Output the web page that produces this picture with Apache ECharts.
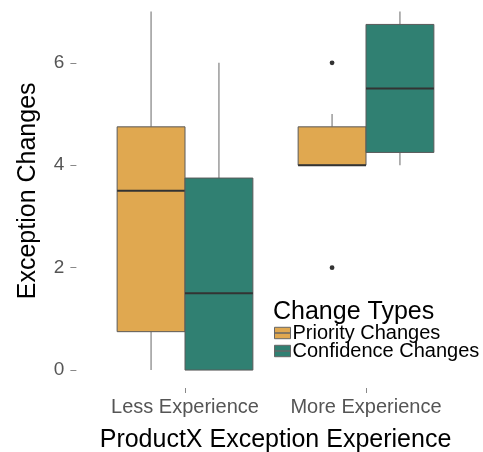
<!DOCTYPE html>
<html>
<head>
<meta charset="utf-8">
<script src="https://cdn.jsdelivr.net/npm/echarts@6/dist/echarts.min.js"></script>
<style>
  html, body { margin: 0; padding: 0; background: #fff; }
  #chart { width: 483px; height: 452px; }
</style>
</head>
<body>
<div id="chart"></div>
<script>
// 数据
const categories = ["Less Experience", "More Experience"];
const seriesNames = ["Priority Changes", "Confidence Changes"];
// [min, Q1, median, Q3, max]
const priorityStats = [[0, 0.75, 3.5, 4.75, 7], [4, 4, 4, 4.75, 5]];
const confidenceStats = [[0, 0, 1.5, 3.75, 6], [4, 4.25, 5.5, 6.75, 7]];
const priorityOutliers = [[], [6, 2]];
const confidenceOutliers = [[], []];
const yTicks = [0, 2, 4, 6];

const colors = ["#E0A850", "#308072"];
const FONT = "Liberation Sans";
const DODGE = 0.1875; // 每个箱子偏移（类别宽度的比例）

function makeRender(outliers, side) {
  return function (params, api) {
    const cat = api.value(0);
    const xv = cat + 1 + side * DODGE;
    const unit = api.size([1, 0])[0];
    const w = unit * 0.375;
    const pMin = api.coord([xv, api.value(1)]);
    const pQ1 = api.coord([xv, api.value(2)]);
    const pMed = api.coord([xv, api.value(3)]);
    const pQ3 = api.coord([xv, api.value(4)]);
    const pMax = api.coord([xv, api.value(5)]);
    const cx = pMed[0];
    const children = [
      { type: "line", shape: { x1: cx, y1: pQ3[1], x2: cx, y2: pMax[1] },
        style: { stroke: "#808080", lineWidth: 1.2 } },
      { type: "line", shape: { x1: cx, y1: pQ1[1], x2: cx, y2: pMin[1] },
        style: { stroke: "#808080", lineWidth: 1.2 } },
      { type: "rect", shape: { x: cx - w / 2, y: pQ3[1], width: w, height: pQ1[1] - pQ3[1] },
        style: { fill: api.visual("color"), stroke: "#5a5a5a", lineWidth: 1 } },
      { type: "line", shape: { x1: cx - w / 2, y1: pMed[1], x2: cx + w / 2, y2: pMed[1] },
        style: { stroke: "#333", lineWidth: 2 } }
    ];
    (outliers[params.dataIndex] || []).forEach(function (v) {
      const p = api.coord([xv, v]);
      children.push({ type: "circle", shape: { cx: p[0], cy: p[1], r: 2.4 }, style: { fill: "#333" } });
    });
    return { type: "group", children: children };
  };
}

function toData(stats) {
  return stats.map(function (s, i) { return [i].concat(s); });
}

const option = {
  backgroundColor: "#fff",
  animation: false,
  title: {
    text: "Change Types",
    left: 273,
    top: 300,
    padding: 0,
    textStyle: { fontFamily: FONT, fontSize: 25, fontWeight: "normal", color: "#000" }
  },
  legend: {
    orient: "vertical",
    left: 269,
    top: 318,
    itemWidth: 16,
    itemHeight: 12,
    itemGap: -2,
    icon: "path://M0,2H14V7H0Z M0,7H14V12H0Z",
    itemStyle: { borderColor: "#666", borderWidth: 1 },
    textStyle: { fontFamily: FONT, fontSize: 20, color: "#000", padding: [0, 0, 0, -3] },
    data: seriesNames
  },
  grid: { left: 76.4, right: 8.4, top: -6.3, bottom: 64, outerBoundsMode: "none" },
  xAxis: {
    type: "value",
    min: 0.4,
    max: 2.6,
    name: "ProductX Exception Experience",
    nameLocation: "middle",
    nameGap: 40,
    nameTextStyle: { fontFamily: FONT, fontSize: 25, color: "#000" },
    axisLine: { show: false, onZero: false },
    splitLine: { show: false },
    axisTick: { show: true, length: 5, lineStyle: { color: "#888" }, customValues: [1, 2] },
    axisLabel: {
      fontFamily: FONT, fontSize: 20, color: "#555", margin: 9,
      customValues: [1, 2],
      formatter: function (v) { return categories[Math.round(v) - 1] || ""; }
    }
  },
  yAxis: {
    type: "value",
    min: -0.35,
    max: 7.35,
    name: "Exception Changes",
    nameLocation: "middle",
    nameGap: 36,
    nameTextStyle: { fontFamily: FONT, fontSize: 25, color: "#000" },
    axisLine: { show: false, onZero: false },
    splitLine: { show: false },
    axisTick: { show: true, length: 6, lineStyle: { color: "#888" }, customValues: yTicks },
    axisLabel: { fontFamily: FONT, fontSize: 19, color: "#555", margin: 12, customValues: yTicks }
  },
  series: [
    {
      name: seriesNames[0],
      type: "custom",
      renderItem: makeRender(priorityOutliers, -1),
      itemStyle: { color: colors[0] },
      encode: { x: 0, y: [1, 2, 3, 4, 5] },
      data: toData(priorityStats)
    },
    {
      name: seriesNames[1],
      type: "custom",
      renderItem: makeRender(confidenceOutliers, 1),
      itemStyle: { color: colors[1] },
      encode: { x: 0, y: [1, 2, 3, 4, 5] },
      data: toData(confidenceStats)
    }
  ]
};

const chartObj = echarts.init(document.getElementById("chart"));
chartObj.setOption(option);
</script>
</body>
</html>
